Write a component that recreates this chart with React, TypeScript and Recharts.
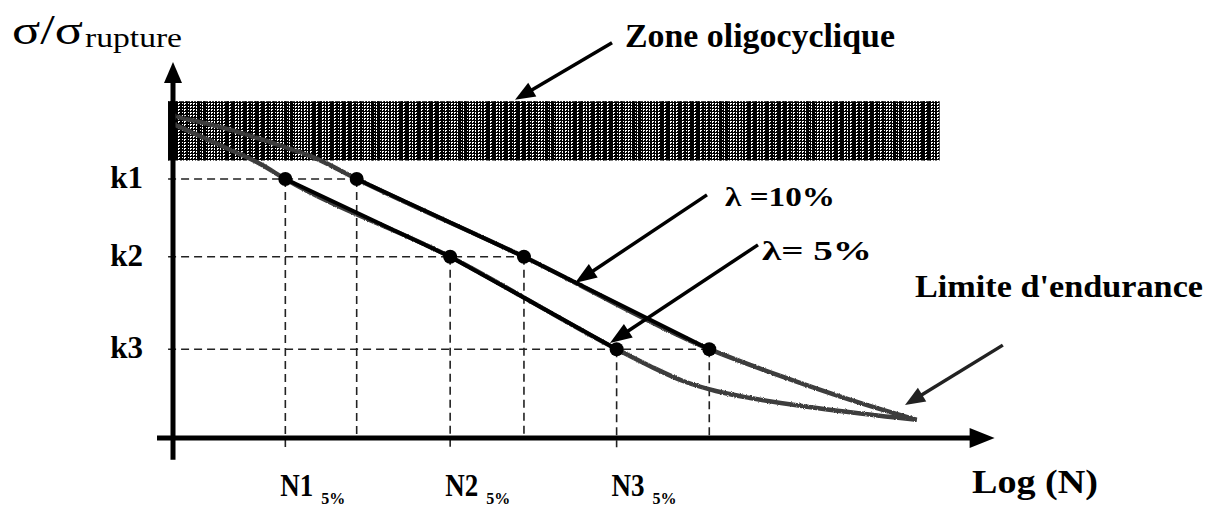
import { LineChart, Line, XAxis, YAxis, ReferenceArea, ReferenceLine, ReferenceDot } from "recharts";

const SERIF = "'Liberation Serif', 'Times New Roman', serif";

// stress levels, as a fraction of the rupture stress
const kLabels = ["k1", "k2", "k3"];
const kLevels = [0.7, 0.49, 0.24];

// log(N) reached at each level for the two failure probabilities
const nLabels = ["N1", "N2", "N3"];
const logN5 = [1.37, 3.38, 5.41];
const logN10 = [2.24, 4.28, 6.54];

// full S-N envelopes, low-cycle start down to the endurance tail
const curve5X = [0, 0.57, 1.06, 1.37, 3.38, 5.41, 5.82, 6.22, 6.62, 7.04, 7.85, 9.07];
const curve5Y = [0.849, 0.792, 0.741, 0.7, 0.49, 0.24, 0.194, 0.154, 0.127, 0.108, 0.081, 0.049];
const curve10X = [0, 0.57, 1.18, 1.73, 2.24, 4.28, 6.54, 7.44, 8.26, 9.07];
const curve10Y = [0.87, 0.841, 0.8, 0.757, 0.7, 0.49, 0.24, 0.165, 0.103, 0.049];

// low-cycle (oligocyclic) band
const zoneX = [-0.06, 9.35];
const zoneY = [0.75, 0.91];

const zip = (xs: number[], ys: number[]) => xs.map((x, i) => ({ x, y: ys[i] }));

function Arrow(props: any) {
  const { x1, y1, x2, y2, stroke, width = 4, head = 22, half = 8 } = props;
  const dx = x2 - x1;
  const dy = y2 - y1;
  const len = Math.hypot(dx, dy) || 1;
  const ux = dx / len;
  const uy = dy / len;
  const bx = x2 - ux * head;
  const by = y2 - uy * head;
  const px = -uy * half;
  const py = ux * half;
  return (
    <g>
      <line x1={x1} y1={y1} x2={bx + ux * 3} y2={by + uy * 3} stroke={stroke} strokeWidth={width} />
      <polygon points={`${x2},${y2} ${bx + px},${by + py} ${bx - px},${by - py}`} fill={stroke} />
    </g>
  );
}

function Note(props: any) {
  const { cx, cy, text, size, len, weight = "bold" } = props;
  return (
    <text x={cx} y={cy} fontFamily={SERIF} fontWeight={weight} fontSize={size} textLength={len}
      lengthAdjust="spacingAndGlyphs" fill="#000">
      {text}
    </text>
  );
}

function Title(props: any) {
  const { cx, cy } = props;
  return (
    <g fill="#000" fontFamily={SERIF}>
      <text x={cx} y={cy} fontSize={43} textLength={71} lengthAdjust="spacingAndGlyphs">σ/σ</text>
      <text x={cx + 73} y={cy + 3} fontSize={27} textLength={97} lengthAdjust="spacingAndGlyphs">rupture</text>
    </g>
  );
}

function NTick(props: any) {
  const { x, y, payload } = props;
  const i = logN5.indexOf(payload.value);
  return (
    <g fontFamily={SERIF} fontWeight="bold" fill="#000">
      <text x={x - 5} y={y + 50} fontSize={32} textLength={33} lengthAdjust="spacingAndGlyphs">
        {nLabels[i]}
      </text>
      <text x={x + 36} y={y + 58} fontSize={16} textLength={24} lengthAdjust="spacingAndGlyphs">5%</text>
    </g>
  );
}

function KTick(props: any) {
  const { x, y, payload } = props;
  const i = kLevels.indexOf(payload.value);
  return (
    <text x={x - 22} y={y + 9} textAnchor="end" fontFamily={SERIF} fontWeight="bold" fontSize={31} fill="#000">
      {kLabels[i]}
    </text>
  );
}

export default function App() {
  const env5 = zip(curve5X, curve5Y);
  const env10 = zip(curve10X, curve10Y);
  const pts5 = zip(logN5, kLevels);
  const pts10 = zip(logN10, kLevels);
  const dash = { stroke: "#222", strokeWidth: 1.6, strokeDasharray: "8 5", ifOverflow: "visible" as const };

  return (
    <div style={{ position: "absolute", left: 0, top: 0, width: 1215, height: 506, background: "#fff" }}>
      <LineChart width={1215} height={506} margin={{ top: 68, right: 222, bottom: 38, left: 113 }}>
        <defs>
          <pattern id="grid" width="3" height="3" patternUnits="userSpaceOnUse">
            <rect width="3" height="3" fill="#000" />
            <rect x="1" y="1" width="2" height="1" fill="#fff" />
            <rect x="1" y="2" width="1" height="1" fill="#fff" />
          </pattern>
          <pattern id="cols" width="29" height="4" patternUnits="userSpaceOnUse">
            <rect x="0" width="3" height="4" fill="#000" />
            <rect x="7" width="1" height="4" fill="#000" />
            <rect x="12" width="2" height="4" fill="#000" />
            <rect x="18" width="1" height="4" fill="#000" />
            <rect x="23" width="3" height="4" fill="#000" />
          </pattern>
          <filter id="rough" x="-5%" y="-5%" width="110%" height="110%">
            <feTurbulence type="fractalNoise" baseFrequency="0.9" numOctaves="2" result="noise" />
            <feDisplacementMap in="SourceGraphic" in2="noise" scale="3" />
          </filter>
        </defs>

        <XAxis type="number" dataKey="x" domain={[0, 10]} ticks={logN5} interval={0} tick={<NTick />}
          axisLine={false} tickLine={false} height={30} />
        <YAxis type="number" domain={[0, 1]} ticks={kLevels} interval={0} tick={<KTick />}
          axisLine={false} tickLine={false} width={60} />

        <ReferenceArea x1={zoneX[0]} x2={zoneX[1]} y1={zoneY[0]} y2={zoneY[1]} fill="url(#grid)"
          fillOpacity={1} stroke="none" ifOverflow="visible" />
        <ReferenceArea x1={zoneX[0]} x2={zoneX[1]} y1={zoneY[0]} y2={zoneY[1]} fill="url(#cols)"
          fillOpacity={1} stroke="none" ifOverflow="visible" />

        {kLevels.map((k, i) => (
          <ReferenceLine key={`h${i}`} segment={[{ x: -0.06, y: k }, { x: logN10[i], y: k }]} {...dash} />
        ))}
        {logN5.map((n, i) => (
          <ReferenceLine key={`v5${i}`} segment={[{ x: n, y: kLevels[i] }, { x: n, y: -0.025 }]} {...dash} />
        ))}
        {logN10.map((n, i) => (
          <ReferenceLine key={`v10${i}`} segment={[{ x: n, y: kLevels[i] }, { x: n, y: 0 }]} {...dash} />
        ))}

        <Line data={env10} dataKey="y" type="monotone" stroke="#3c3c3c" strokeWidth={4.5} dot={false}
          isAnimationActive={false} filter="url(#rough)" />
        <Line data={env5} dataKey="y" type="monotone" stroke="#3c3c3c" strokeWidth={4.5} dot={false}
          isAnimationActive={false} filter="url(#rough)" />
        <Line data={pts10} dataKey="y" type="linear" stroke="#000" strokeWidth={4}
          dot={{ r: 7, fill: "#000", stroke: "none" }} isAnimationActive={false} />
        <Line data={pts5} dataKey="y" type="linear" stroke="#000" strokeWidth={4}
          dot={{ r: 7, fill: "#000", stroke: "none" }} isAnimationActive={false} />

        {/* axes with arrowheads */}
        <ReferenceLine segment={[{ x: 0, y: -0.059 }, { x: 0, y: 1.016 }]} stroke="#000" ifOverflow="visible"
          shape={(p: any) => <Arrow {...p} width={5} head={21} half={9} />} />
        <ReferenceLine segment={[{ x: -0.195, y: 0 }, { x: 10.02, y: 0 }]} stroke="#000" ifOverflow="visible"
          shape={(p: any) => <Arrow {...p} width={5} head={25} half={10} />} />

        {/* annotation arrows */}
        <ReferenceLine segment={[{ x: 5.354, y: 1.068 }, { x: 4.171, y: 0.914 }]} stroke="#000" ifOverflow="visible"
          shape={(p: any) => <Arrow {...p} width={3.5} head={20} half={8} />} />
        <ReferenceLine segment={[{ x: 6.512, y: 0.657 }, { x: 4.902, y: 0.419 }]} stroke="#000" ifOverflow="visible"
          shape={(p: any) => <Arrow {...p} width={3.5} head={22} half={8} />} />
        <ReferenceLine segment={[{ x: 7.134, y: 0.522 }, { x: 5.329, y: 0.257 }]} stroke="#000" ifOverflow="visible"
          shape={(p: any) => <Arrow {...p} width={3.5} head={22} half={8} />} />
        <ReferenceLine segment={[{ x: 10.12, y: 0.251 }, { x: 8.927, y: 0.089 }]} stroke="#222" ifOverflow="visible"
          shape={(p: any) => <Arrow {...p} width={3.5} head={20} half={8} />} />

        {/* texts */}
        <ReferenceDot x={-1.963} y={1.065} ifOverflow="visible" shape={(p: any) => <Title {...p} />} />
        <ReferenceDot x={5.512} y={1.057} ifOverflow="visible"
          shape={(p: any) => <Note {...p} text="Zone oligocyclique" size={34} len={270} />} />
        <ReferenceDot x={6.732} y={0.627} ifOverflow="visible"
          shape={(p: any) => <Note {...p} text="λ =10%" size={27} len={110} />} />
        <ReferenceDot x={7.183} y={0.481} ifOverflow="visible"
          shape={(p: any) => <Note {...p} text="λ= 5%" size={28} len={110} />} />
        <ReferenceDot x={9.049} y={0.381} ifOverflow="visible"
          shape={(p: any) => <Note {...p} text="Limite d'endurance" size={32} len={288} />} />
        <ReferenceDot x={9.744} y={-0.149} ifOverflow="visible"
          shape={(p: any) => <Note {...p} text="Log (N)" size={33} len={126} />} />
      </LineChart>
    </div>
  );
}
